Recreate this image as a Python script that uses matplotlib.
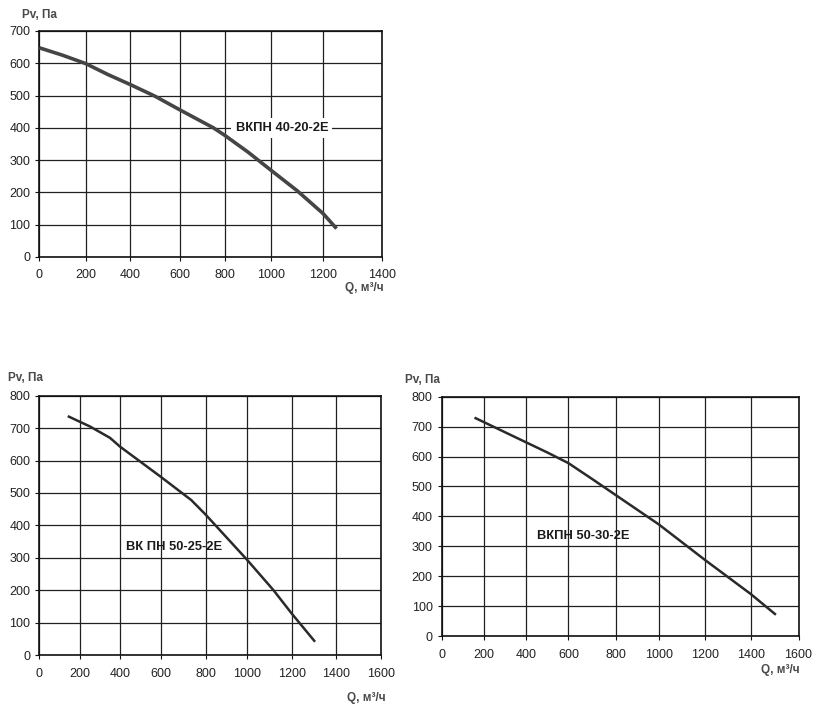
import numpy as np
import matplotlib
matplotlib.use("Agg")
import matplotlib.pyplot as plt

plt.rcParams['font.family'] = ['Liberation Sans', 'DejaVu Sans']

# ВКПН 40-20-2E
q1 = [0, 100, 200, 300, 400, 500, 600, 750, 800, 900, 1000, 1100, 1200, 1245]
p1 = [648, 625, 599, 565, 534, 498, 456, 400, 377, 325, 268, 205, 134, 88]

# ВК ПН 50-25-2E
q2 = [140, 250, 350, 400, 600, 735, 800, 1000, 1118, 1200, 1306]
p2 = [737, 705, 670, 643, 550, 478, 432, 293, 200, 128, 41]

# ВКПН 50-30-2E
q3 = [155, 400, 500, 600, 700, 800, 1000, 1200, 1400, 1505]
p3 = [730, 648, 614, 578, 525, 471, 373, 253, 140, 71]

# the source picture has unevenly spaced x gridlines; where each tick sits (px)
xt1 = [0, 200, 400, 600, 800, 1000, 1200, 1400]
xpx1 = [39.3, 85.7, 130.3, 179.7, 224.7, 271.3, 323.3, 382.3]
xt2 = [0, 200, 400, 600, 800, 1000, 1200, 1400, 1600]
xpx2 = [39.3, 80.0, 120.0, 160.7, 206.0, 247.3, 291.7, 335.7, 380.7]
xpx3 = [441.7, 484.0, 525.7, 568.3, 615.7, 658.7, 705.3, 750.7, 798.3]

fig = plt.figure(figsize=(8.13, 7.07), dpi=100)


def fan_axes(rect, q, p, xt, xpx, ymax, lw, lc):
    ax = fig.add_axes(rect)
    ax.set_xscale('function', functions=(lambda v: np.interp(v, xt, xpx),
                                         lambda v: np.interp(v, xpx, xt)))
    ax.plot(q, p, color=lc, lw=lw, solid_capstyle='butt', zorder=4)
    ax.set_xlim(0, xt[-1])
    ax.set_ylim(0, ymax)
    ax.set_xticks(xt)
    ax.set_xticklabels([str(t) for t in xt])
    ax.minorticks_off()
    ax.set_yticks(range(0, ymax + 1, 100))
    ax.grid(True, color='#202020', lw=0.9)
    ax.set_axisbelow(True)
    for s in ax.spines.values():
        s.set_color('#111111')
        s.set_linewidth(1.2)
    ax.tick_params(labelsize=9, colors='#111111', length=3, width=0.8,
                   labelcolor='#222222')
    ax.tick_params(axis='x', pad=6)
    return ax


ax1 = fan_axes([0.0483, 0.6365, 0.4219, 0.3197], q1, p1, xt1, xpx1, 700, 2.6, '#454545')
ax1.text(1041, 400, 'ВКПН 40-20-2E', ha='center', va='center', fontsize=9.3,
         fontweight='bold', color='#1a1a1a', zorder=5,
         bbox=dict(facecolor='white', edgecolor='none', pad=3))

ax2 = fan_axes([0.0483, 0.0735, 0.4200, 0.3668], q2, p2, xt2, xpx2, 800, 1.8, '#2a2a2a')
ax2.text(661, 332, 'ВК ПН 50-25-2E', ha='center', va='center', fontsize=9.3,
         fontweight='bold', color='#1a1a1a', zorder=1)

ax3 = fan_axes([0.5433, 0.1004, 0.4389, 0.3385], q3, p3, xt2, xpx3, 800, 1.8, '#2a2a2a')
ax3.text(662, 335, 'ВКПН 50-30-2E', ha='center', va='center', fontsize=9.3,
         fontweight='bold', color='#1a1a1a', zorder=1)


# axis titles, placed in pixel positions from the top-left
def fig_text(x, y, s, ha):
    fig.text(x / 813, 1 - y / 707, s, ha=ha, va='center', fontsize=8.5,
             fontweight='bold', color='#4a4a4a')


fig_text(22, 15, 'Pv, Па', 'left')
fig_text(384, 288, 'Q, м³/ч', 'right')
fig_text(8, 378, 'Pv, Па', 'left')
fig_text(386, 698, 'Q, м³/ч', 'right')
fig_text(405, 380, 'Pv, Па', 'left')
fig_text(800, 670, 'Q, м³/ч', 'right')

fig.savefig('out.png', dpi=100)
